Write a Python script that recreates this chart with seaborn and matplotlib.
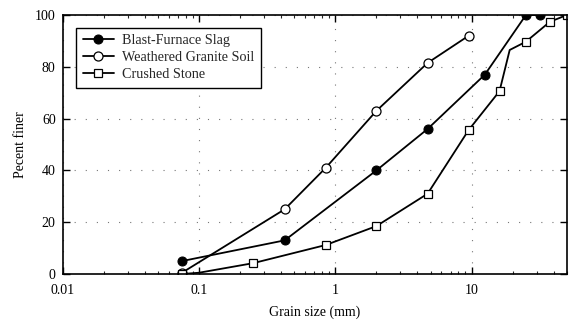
import numpy as np
import pandas as pd
import seaborn as sns
import matplotlib.pyplot as plt
from matplotlib.ticker import LogLocator, FixedLocator, NullFormatter

# grain size (mm) and percent finer for each material
slag_size = [0.075, 0.425, 2.0, 4.75, 12.5, 25.0, 31.5]
slag_pct = [5, 13, 40, 56, 77, 100, 100]

granite_size = [0.075, 0.425, 0.85, 2.0, 4.75, 9.5]
granite_pct = [0.5, 25, 41, 63, 81.5, 92]

stone_size = [0.075, 0.1, 0.25, 0.85, 2.0, 4.75, 9.5, 16.0, 19.0, 25.0, 37.5, 50.0]
stone_pct = [0, 0.5, 4.2, 11.2, 18.5, 31, 55.6, 70.6, 86.5, 89.7, 97.4, 100]
stone_marks = [0, 2, 3, 4, 5, 6, 7, 9, 10, 11]  # the 0.1 mm corner has no marker

sns.set_theme(style="ticks")
plt.rcParams["font.family"] = ["Liberation Serif", "DejaVu Serif"]

fig = plt.figure(figsize=(5.73, 3.22), dpi=100)
ax = fig.add_axes([0.1094, 0.149, 0.8801, 0.8044])

slag = pd.DataFrame({"size": slag_size, "pct": slag_pct})
granite = pd.DataFrame({"size": granite_size, "pct": granite_pct})
stone = pd.DataFrame({"size": stone_size, "pct": stone_pct})

sns.lineplot(data=slag, x="size", y="pct", ax=ax, color="black", lw=1.3,
             marker="o", markersize=6.5, markerfacecolor="black",
             markeredgecolor="black", label="Blast-Furnace Slag")
sns.lineplot(data=granite, x="size", y="pct", ax=ax, color="black", lw=1.3,
             marker="o", markersize=6.5, markerfacecolor="white",
             markeredgecolor="black", markeredgewidth=0.9,
             label="Weathered Granite Soil")
sns.lineplot(data=stone, x="size", y="pct", ax=ax, color="black", lw=1.3,
             marker="s", markersize=5.5, markerfacecolor="white",
             markeredgecolor="black", markeredgewidth=0.9,
             markevery=stone_marks, label="Crushed Stone")

ax.set_xscale("log")
ax.set_xlim(0.01, 50)
ax.set_ylim(0, 100)

ax.xaxis.set_major_locator(FixedLocator([0.01, 0.1, 1, 10]))
ax.set_xticklabels(["0.01", "0.1", "1", "10"])
ax.xaxis.set_minor_locator(LogLocator(base=10, subs=np.arange(2, 10), numticks=20))
ax.xaxis.set_minor_formatter(NullFormatter())
ax.set_yticks([0, 20, 40, 60, 80, 100])

ax.tick_params(which="major", direction="in", length=5, width=1.0,
               top=True, right=True, labelsize=10, colors="black")
ax.tick_params(axis="x", which="major", pad=7)
ax.tick_params(axis="y", which="major", pad=5)
ax.tick_params(which="minor", direction="in", length=2.5, width=0.8,
               top=True, right=True)

# sparse dotted grid
ax.grid(True, which="major", color="#777777", linestyle=(0, (1, 9)), lw=0.8)

for s in ax.spines.values():
    s.set_linewidth(1.2)
    s.set_color("black")

ax.set_xlabel("Grain size (mm)", fontsize=10, labelpad=6, color="black")
ax.set_ylabel("Pecent finer", fontsize=10, labelpad=6, color="black")

leg = ax.legend(loc="upper left", bbox_to_anchor=(0.027, 0.95), frameon=True,
                fancybox=False, fontsize=10.2, handlelength=2.2,
                handletextpad=0.6, borderpad=0.45, labelspacing=0.28,
                borderaxespad=0)
leg.get_frame().set_edgecolor("black")
leg.get_frame().set_linewidth(1.0)
leg.get_frame().set_alpha(1)

fig.savefig("out.png", dpi=100)
